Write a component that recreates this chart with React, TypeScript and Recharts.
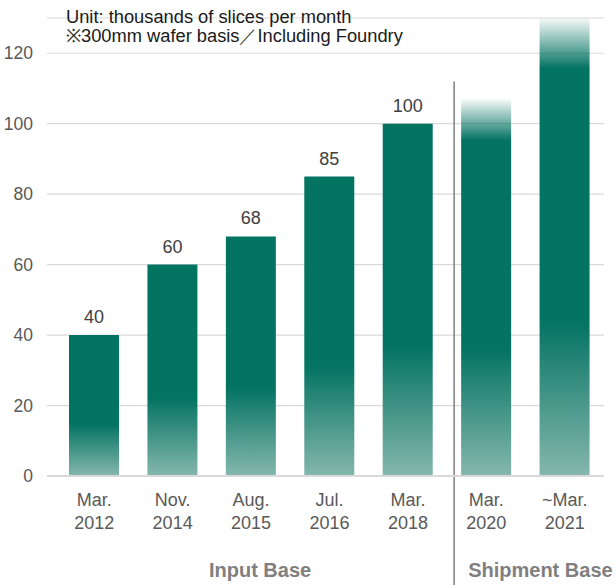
import React from "react";
import { BarChart, Bar, XAxis, YAxis, CartesianGrid, Cell, LabelList, Customized } from "recharts";

const categories = ["Mar.|2012", "Nov.|2014", "Aug.|2015", "Jul.|2016", "Mar.|2018", "Mar.|2020", "~Mar.|2021"];
const capacity = [40, 60, 68, 85, 100, 107, 130];
const valueLabels = ["40", "60", "68", "85", "100", "", ""];
const projected = [false, false, false, false, false, true, true];
const yTicks = [0, 20, 40, 60, 80, 100, 120];
const groupLabels = ["Input Base", "Shipment Base"];
const noteLines = ["Unit: thousands of slices per month", "※300mm wafer basis／Including Foundry"];

const data = categories.map((c, i) => ({ cat: c, value: capacity[i], label: valueLabels[i], proj: projected[i] }));

const W = 616;
const H = 585;
const M = { top: 18, right: 12, bottom: 0, left: 0 };
const Y_W = 47;
const X_H = 109;
const PAD_L = 8;
const FONT = "'Liberation Sans', Arial, sans-serif";

const XTick = (props: any) => {
  const { x, y, payload } = props;
  const [a, b] = String(payload.value).split("|");
  return (
    <text x={x} y={y} textAnchor="middle" fill="#595959" fontSize={18} fontFamily={FONT}>
      <tspan x={x} dy={22}>{a}</tspan>
      <tspan x={x} dy={23}>{b}</tspan>
    </text>
  );
};

const Overlay = () => {
  const plotL = M.left + Y_W + PAD_L;
  const plotR = W - M.right;
  const band = (plotR - plotL) / categories.length;
  const sepX = plotL + 5 * band + 7;
  const bottom = H - M.bottom - X_H;
  const yOf = (v: number) => bottom - ((bottom - M.top) * v) / 130;
  return (
    <g>
      <line x1={sepX} x2={sepX} y1={yOf(112)} y2={H} stroke="#7f7f7f" strokeWidth={1.5} />
      <text x={plotL + 2.5 * band + 9} y={577} textAnchor="middle" fill="#7f7f7f" fontSize={20} fontWeight="bold" fontFamily={FONT}>
        {groupLabels[0]}
      </text>
      <text x={sepX + 14} y={577} textAnchor="start" fill="#7f7f7f" fontSize={20} fontWeight="bold" fontFamily={FONT}>
        {groupLabels[1]}
      </text>
      <text x={66} y={23} fill="#1a1a1a" fontSize={18.3} fontFamily={FONT}>{noteLines[0]}</text>
      <text x={66} y={42} fill="#1a1a1a" fontSize={18.3} fontFamily={FONT}>{noteLines[1]}</text>
    </g>
  );
};

export default function App() {
  return (
    <div style={{ position: "absolute", left: 0, top: 0, width: W, height: H, background: "#fff", overflow: "hidden" }}>
      <BarChart width={W} height={H} data={data} margin={M} barCategoryGap={0}>
        <defs>
          <linearGradient id="gActual" x1="0" y1="0" x2="0" y2="1">
            <stop offset="0%" stopColor="#037362" />
            <stop offset="63%" stopColor="#037362" />
            <stop offset="100%" stopColor="#85b7ad" />
          </linearGradient>
          <linearGradient id="gPlan" x1="0" y1="0" x2="0" y2="1">
            <stop offset="0%" stopColor="#037362" stopOpacity={0.03} />
            <stop offset="11%" stopColor="#037362" stopOpacity={1} />
            <stop offset="66%" stopColor="#037362" />
            <stop offset="100%" stopColor="#85b7ad" />
          </linearGradient>
        </defs>
        <CartesianGrid vertical={false} stroke="#d9d9d9" strokeWidth={1.2} />
        <XAxis
          dataKey="cat"
          height={X_H}
          interval={0}
          tick={<XTick />}
          tickLine={false}
          axisLine={{ stroke: "#d9d9d9", strokeWidth: 2 }}
          padding={{ left: PAD_L, right: 0 }}
        />
        <YAxis
          width={Y_W}
          domain={[0, 130]}
          ticks={yTicks}
          tickLine={false}
          axisLine={false}
          allowDataOverflow
          tick={{ fill: "#595959", fontSize: 17.5, fontFamily: FONT }}
          tickMargin={8}
        />
        <Bar dataKey="value" barSize={50} isAnimationActive={false}>
          {data.map((d, i) => (
            <Cell key={i} fill={d.proj ? "url(#gPlan)" : "url(#gActual)"} />
          ))}
          <LabelList dataKey="label" position="top" offset={12} fill="#404040" fontSize={18} fontFamily={FONT} />
        </Bar>
        <Customized component={Overlay} />
      </BarChart>
    </div>
  );
}
